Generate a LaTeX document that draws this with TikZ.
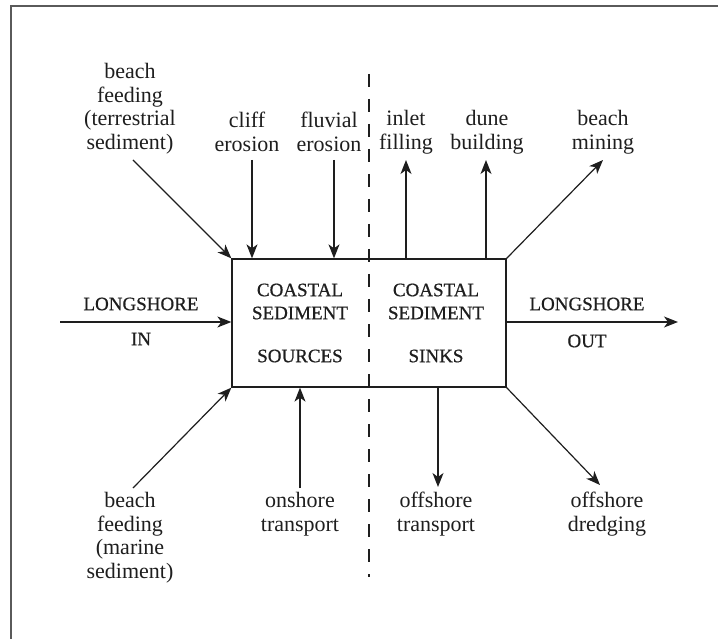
\documentclass[tikz,border=0pt]{standalone}
\usepackage{fontspec}
\setmainfont{Liberation Serif}
\newfontfamily\capsfont{Liberation Serif}[FakeBold=0.7]
\usetikzlibrary{arrows.meta}
\definecolor{framegray}{HTML}{5A5A5A}
\definecolor{ink}{HTML}{1E1E1E}
\begin{document}
\begin{tikzpicture}[x=1pt,y=-1pt,
  lbl/.style={align=center,inner sep=0pt,text=ink,font=\fontsize{22}{23.5}\selectfont},
  caps/.style={align=center,inner sep=0pt,text=ink,font=\capsfont\fontsize{19}{23}\selectfont},
  arr/.style={draw=ink,line width=1.2pt,-{Stealth[length=14pt,width=11pt,inset=4pt]}},
  boxstyle/.style={draw=ink,line width=1.3pt,minimum width=274pt,minimum height=128pt,inner sep=0pt},
  divider/.style={draw=ink,line width=1.2pt,dash pattern=on 13pt off 12pt},
]
\useasboundingbox (0,0) rectangle (718,639);
\clip (0,0) rectangle (718,639);

% outer frame, open to the right and bottom
\draw[framegray,line width=1.5pt] (730,6) -- (11,6) -- (11,650);

% budget box with the sources / sinks divider
\node[boxstyle] (box) at (369,323) {};
\coordinate (divTop) at (369,74);
\coordinate (divBot) at (369,577);
\draw[divider] (divTop) -- (divBot);

% box contents
\node[caps] (srcA) at (300,301.5) {COASTAL\\SEDIMENT};
\node[caps] (srcB) at (300,356) {SOURCES};
\node[caps] (snkA) at (436,301.5) {COASTAL\\SEDIMENT};
\node[caps] (snkB) at (436,356) {SINKS};

% longshore transport
\node[caps] (linA) at (141,304) {LONGSHORE};
\node[caps] (linB) at (141,339) {IN};
\node[caps] (loutA) at (587,304) {LONGSHORE};
\node[caps] (loutB) at (587,341) {OUT};
\coordinate (linS) at (60,322);
\coordinate (loutT) at (678,322);
\draw[arr] (linS) -- (linS -| box.west);
\draw[arr] (loutT -| box.east) -- (loutT);

% upper labels
\node[lbl] (terr) at (130,108.5) {beach\\feeding\\(terrestrial\\sediment)};
\node[lbl] (cliff) at (247,132) {cliff\\erosion};
\node[lbl] (fluv) at (329,132) {fluvial\\erosion};
\node[lbl] (inlet) at (406,132) {inlet\\filling};
\node[lbl] (dune) at (487,132) {dune\\building};
\node[lbl] (mining) at (603,132) {beach\\mining};

\coordinate (terrS) at (133,160);
\coordinate (cliffS) at (252,160);
\coordinate (fluvS) at (334,160);
\coordinate (inletT) at (406,160);
\coordinate (duneT) at (486,160);
\coordinate (miningT) at (603,160);
\draw[arr] (terrS) -- (box.north west);
\draw[arr] (cliffS) -- (cliffS |- box.north);
\draw[arr] (fluvS) -- (fluvS |- box.north);
\draw[arr] (inletT |- box.north) -- (inletT);
\draw[arr] (duneT |- box.north) -- (duneT);
\draw[arr] (box.north east) -- (miningT);

% lower labels
\node[lbl] (marine) at (130,537.5) {beach\\feeding\\(marine\\sediment)};
\node[lbl] (onsh) at (300,514) {onshore\\transport};
\node[lbl] (offsh) at (436,514) {offshore\\transport};
\node[lbl] (dredge) at (607,514) {offshore\\dredging};

\coordinate (marineS) at (133,488);
\coordinate (onshS) at (300,488);
\coordinate (offshT) at (438,487);
\coordinate (dredgeT) at (600,485);
\draw[arr] (marineS) -- (box.south west);
\draw[arr] (onshS) -- (onshS |- box.south);
\draw[arr] (offshT |- box.south) -- (offshT);
\draw[arr] (box.south east) -- (dredgeT);
\end{tikzpicture}
\end{document}
